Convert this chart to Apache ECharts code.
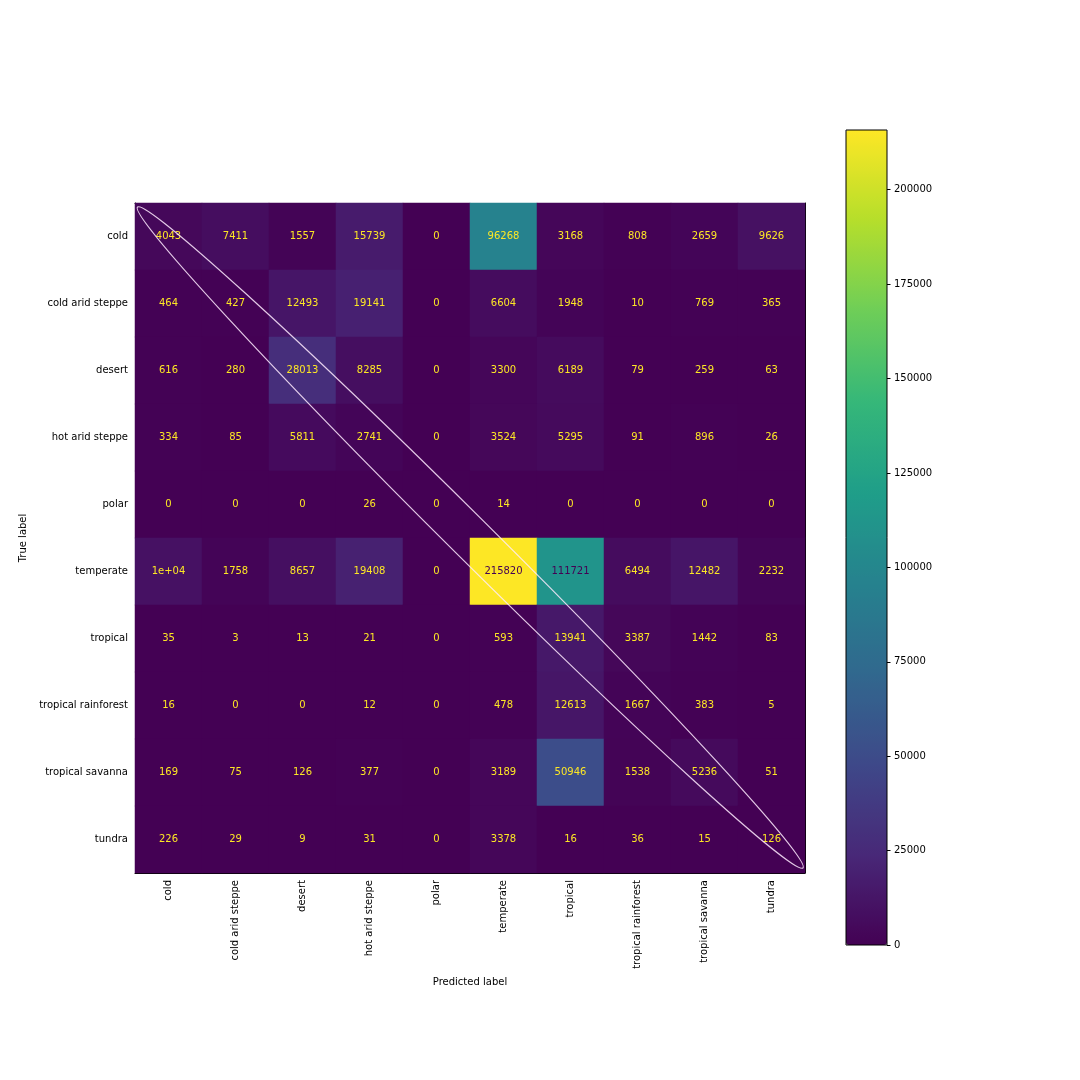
<!DOCTYPE html>
<html>
<head>
<meta charset="utf-8">
<script src="https://cdn.jsdelivr.net/npm/echarts@6/dist/echarts.min.js"></script>
<style>
  html, body { margin: 0; padding: 0; background: #fff; }
  #main { width: 1080px; height: 1080px; }
</style>
</head>
<body>
<div id="main"></div>
<script>
const labels = ['cold', 'cold arid steppe', 'desert', 'hot arid steppe', 'polar',
  'temperate', 'tropical', 'tropical rainforest', 'tropical savanna', 'tundra']
// rows = true label, columns = predicted label
const counts = [
  [4043, 7411, 1557, 15739, 0, 96268, 3168, 808, 2659, 9626],
  [464, 427, 12493, 19141, 0, 6604, 1948, 10, 769, 365],
  [616, 280, 28013, 8285, 0, 3300, 6189, 79, 259, 63],
  [334, 85, 5811, 2741, 0, 3524, 5295, 91, 896, 26],
  [0, 0, 0, 26, 0, 14, 0, 0, 0, 0],
  [10000, 1758, 8657, 19408, 0, 215820, 111721, 6494, 12482, 2232],
  [35, 3, 13, 21, 0, 593, 13941, 3387, 1442, 83],
  [16, 0, 0, 12, 0, 478, 12613, 1667, 383, 5],
  [169, 75, 126, 377, 0, 3189, 50946, 1538, 5236, 51],
  [226, 29, 9, 31, 0, 3378, 16, 36, 15, 126]
]
const colorbarTicks = [0, 25000, 50000, 75000, 100000, 125000, 150000, 175000, 200000]

const viridis = ['#440154', '#482878', '#3e4989', '#31688e', '#26828e',
  '#1f9e89', '#35b779', '#6ece58', '#b5de2b', '#fde725']
const font = 'DejaVu Sans'

// layout (px)
const G = { left: 135, top: 203, width: 670, height: 670 }
const CB = { left: 846, top: 130, width: 41, height: 815 }

let vmax = 0, vmin = Infinity
counts.forEach(r => r.forEach(v => { vmax = Math.max(vmax, v); vmin = Math.min(vmin, v) }))
const thresh = (vmax + vmin) / 2

// matplotlib style: '.2g' unless plain integer is shorter
function g2 (v) {
  if (v === 0) return '0'
  let r = Number(v.toPrecision(2))
  let e = Math.floor(Math.log10(Math.abs(r)))
  if (e < -4 || e >= 2) {
    let m = String(Number((r / Math.pow(10, e)).toFixed(1)))
    let ae = Math.abs(e)
    return m + 'e' + (e < 0 ? '-' : '+') + (ae < 10 ? '0' : '') + ae
  }
  return String(r)
}
function fmt (v) {
  let d = String(v)
  let g = g2(v)
  return d.length < g.length ? d : g
}

let cells = []
counts.forEach((row, i) => {
  row.forEach((v, j) => {
    cells.push({
      value: [j, i, v],
      label: { color: v < thresh ? viridis[9] : viridis[0] }
    })
  })
})

let myChart = echarts.init(document.getElementById('main'))

// ellipse annotation along the diagonal
let x1 = G.left + 2.5, y1 = G.top + 4
let x2 = G.left + G.width - 2, y2 = G.top + G.height - 5
let ang = Math.atan2(y2 - y1, x2 - x1)
let semiMajor = Math.hypot(x2 - x1, y2 - y1) / 2

let option = {
  backgroundColor: '#ffffff',
  animation: false,
  textStyle: { fontFamily: font },
  grid: [
    { left: G.left, top: G.top, width: G.width, height: G.height },
    { left: CB.left, top: CB.top, width: CB.width, height: CB.height }
  ],
  xAxis: [
    {
      type: 'category',
      gridIndex: 0,
      data: labels,
      name: 'Predicted label',
      nameLocation: 'middle',
      nameGap: 104,
      nameTextStyle: { fontSize: 10, color: '#000', fontFamily: font },
      axisLine: { lineStyle: { color: '#000', width: 1 } },
      axisTick: { alignWithLabel: true, length: 3.5, lineStyle: { color: '#000' } },
      axisLabel: { rotate: 90, fontSize: 10, color: '#000', margin: 7, fontFamily: font, interval: 0 },
      splitLine: { show: false }
    },
    {
      type: 'category',
      gridIndex: 0,
      position: 'top',
      data: labels,
      axisLine: { lineStyle: { color: '#000', width: 1 } },
      axisTick: { show: false },
      axisLabel: { show: false }
    },
    {
      type: 'category',
      gridIndex: 1,
      data: [''],
      show: false
    }
  ],
  yAxis: [
    {
      type: 'category',
      gridIndex: 0,
      data: labels,
      inverse: true,
      name: 'True label',
      nameLocation: 'middle',
      nameGap: 105,
      nameRotate: 90,
      nameTextStyle: { fontSize: 10, color: '#000', fontFamily: font },
      axisLine: { lineStyle: { color: '#000', width: 1 } },
      axisTick: { alignWithLabel: true, length: 3.5, lineStyle: { color: '#000' } },
      axisLabel: { fontSize: 10, color: '#000', margin: 7, fontFamily: font, interval: 0 },
      splitLine: { show: false }
    },
    {
      type: 'category',
      gridIndex: 0,
      position: 'right',
      data: labels,
      inverse: true,
      axisLine: { lineStyle: { color: '#000', width: 1 } },
      axisTick: { show: false },
      axisLabel: { show: false }
    },
    {
      type: 'value',
      gridIndex: 1,
      position: 'right',
      min: 0,
      max: vmax,
      axisLine: { show: false },
      axisTick: { show: true, length: 3.5, lineStyle: { color: '#000' }, customValues: colorbarTicks },
      axisLabel: {
        fontSize: 10, color: '#000', margin: 7, fontFamily: font,
        customValues: colorbarTicks,
        formatter: function (v) { return String(v) }
      },
      splitLine: { show: false }
    }
  ],
  visualMap: {
    type: 'continuous',
    seriesIndex: 0,
    dimension: 2,
    min: 0,
    max: vmax,
    left: CB.left,
    top: CB.top,
    padding: 0,
    itemWidth: CB.width,
    itemHeight: CB.height,
    calculable: false,
    hoverLink: false,
    text: null,
    showLabel: false,
    inRange: { color: viridis }
  },
  series: [
    {
      type: 'heatmap',
      xAxisIndex: 0,
      yAxisIndex: 0,
      data: cells,
      label: {
        show: true,
        fontSize: 10,
        fontFamily: font,
        formatter: function (p) { return fmt(p.value[2]) }
      },
      itemStyle: { borderWidth: 0 },
      emphasis: { disabled: true }
    }
  ],
  graphic: [
    {
      type: 'rect',
      z: 100,
      silent: true,
      shape: { x: CB.left, y: CB.top, width: CB.width, height: CB.height },
      style: { fill: 'none', stroke: '#000', lineWidth: 1 }
    },
    {
      type: 'ellipse',
      z: 100,
      silent: true,
      x: (x1 + x2) / 2,
      y: (y1 + y2) / 2,
      rotation: -ang,
      shape: { cx: 0, cy: 0, rx: semiMajor, ry: 21 },
      style: { fill: 'none', stroke: 'rgba(255,235,255,0.85)', lineWidth: 1.2 }
    }
  ]
}
myChart.clear()
myChart.setOption(option)
</script>
</body>
</html>
